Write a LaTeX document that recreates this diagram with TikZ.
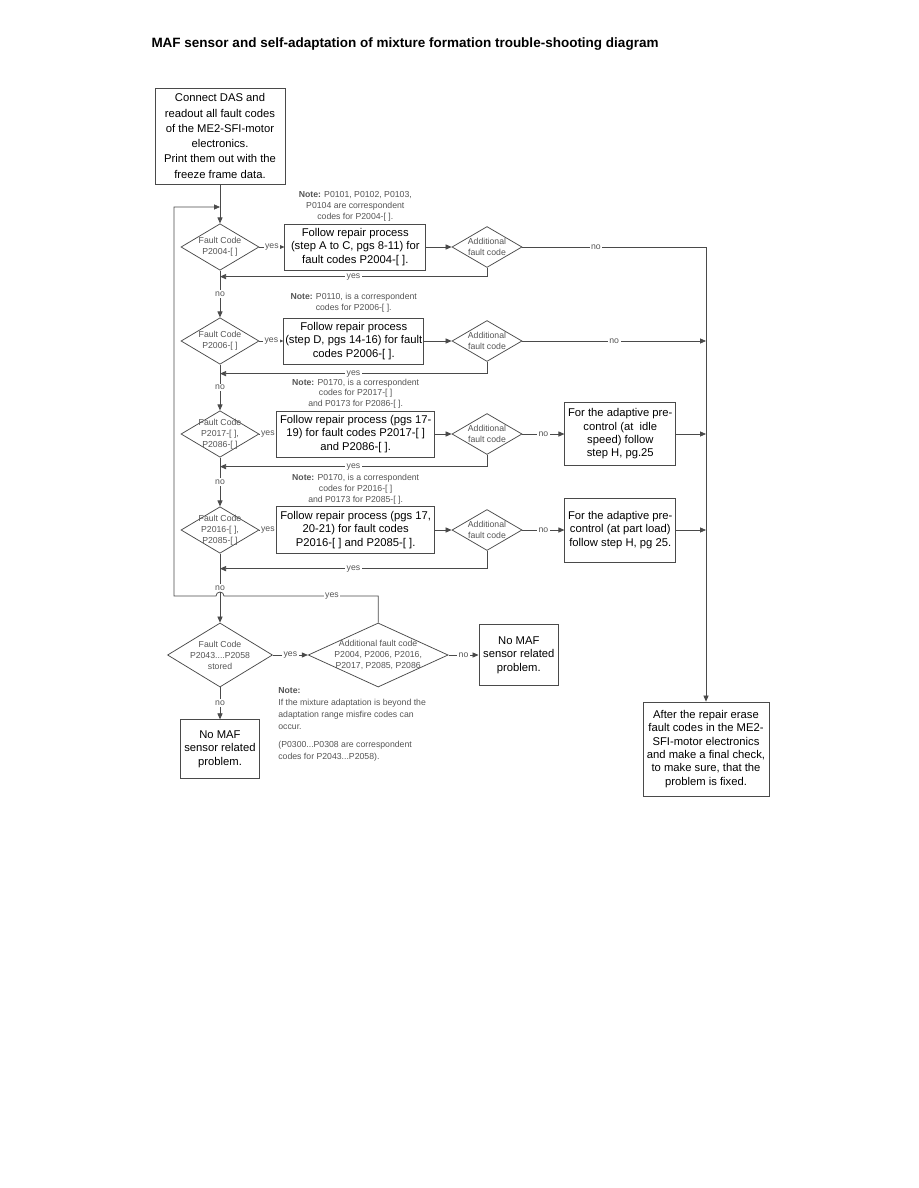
\documentclass[tikz,border=0pt]{standalone}
\usepackage{fontspec}
\setmainfont{Liberation Sans}
\usetikzlibrary{shapes.geometric, arrows.meta, positioning, calc}
\definecolor{linegray}{HTML}{4A4A4A}
\definecolor{notegray}{HTML}{555555}
\newcommand{\boxfont}{\fontsize{7.5}{8.9}\selectfont}
\newcommand{\smallfont}{\fontsize{5.8}{7.3}\selectfont}

\begin{document}
\begin{tikzpicture}[
    x=0.6667pt, y=-0.6667pt,
    line width=0.5pt,
    >={Triangle[length=4pt, width=3.4pt]},
    block/.style={rectangle, draw=linegray, fill=white, align=center, inner sep=1pt, font=\boxfont},
    decision/.style={diamond, draw=linegray, fill=white, inner sep=0pt, minimum width=52pt, minimum height=31pt},
    extra/.style={decision, minimum width=46.7pt, minimum height=27.3pt},
    dtext/.style={align=center, font=\smallfont, text=notegray, inner sep=0pt},
    note/.style={align=center, font=\smallfont, text=notegray, inner sep=0pt},
    lbl/.style={fill=white, inner sep=1pt, font=\smallfont, text=notegray},
    arrow/.style={->, draw=linegray},
]
    \fill[white] (0,0) rectangle (918,1188);
    \useasboundingbox (0,0) rectangle (918,1188);

    % Title
    \node[font=\bfseries\fontsize{9}{11}\selectfont] (title) at (405,44) {MAF sensor and self-adaptation of mixture formation trouble-shooting diagram};

    % Start
    \node[block, minimum width=86.7pt, minimum height=64pt, font=\fontsize{7.5}{10.2}\selectfont] (start) at (220,136) {Connect DAS and\\readout all fault codes\\of the ME2-SFI-motor\\electronics.\\Print them out with the\\freeze frame data.};

    % Fault code checks
    \node[decision, label={[dtext]center:{Fault Code\\P2004-[ ]}}] (d1) at (220,247) {};
    \node[decision, label={[dtext]center:{Fault Code\\P2006-[ ]}}] (d2) at (220,341) {};
    \node[decision, label={[dtext]center:{Fault Code\\P2017-[ ],\\P2086-[ ]}}] (d3) at (220,434) {};
    \node[decision, label={[dtext]center:{Fault Code\\P2016-[ ],\\P2085-[ ]}}] (d4) at (220,530) {};
    \node[decision, minimum width=70pt, minimum height=42.7pt, label={[dtext]center:{Fault Code\\P2043....P2058\\stored}}] (d5) at (220,655) {};

    % Additional fault code checks
    \node[extra, label={[dtext]center:{Additional\\fault code}}] (a1) at (487,247) {};
    \node[extra, label={[dtext]center:{Additional\\fault code}}] (a2) at (487,341) {};
    \node[extra, label={[dtext]center:{Additional\\fault code}}] (a3) at (487,434) {};
    \node[extra, label={[dtext]center:{Additional\\fault code}}] (a4) at (487,530) {};
    \node[decision, minimum width=93.3pt, minimum height=42.7pt, right=23.3pt of d5, label={[dtext]center:{Additional fault code\\P2004, P2006, P2016,\\P2017, P2085, P2086}}] (a5) {};

    % Repair processes
    \node[block, minimum width=94pt, minimum height=30.7pt, right=16.7pt of d1] (rep1) {Follow repair process\\(step A to C, pgs 8-11) for\\fault codes P2004-[ ].};
    \node[block, minimum width=89.3pt, minimum height=30.7pt, right=16pt of d2] (rep2) {Follow repair process\\(step D, pgs 14-16) for fault\\codes P2006-[ ].};
    \node[block, minimum width=105.3pt, minimum height=30.7pt, right=11.3pt of d3] (rep3) {Follow repair process (pgs 17-\\19) for fault codes P2017-[ ]\\and P2086-[ ].};
    \node[block, minimum width=105.3pt, minimum height=31.3pt, right=11.3pt of d4] (rep4) {Follow repair process (pgs 17,\\20-21) for fault codes\\P2016-[ ] and P2085-[ ].};

    % Adaptive pre-control
    \node[block, minimum width=74pt, minimum height=42pt, right=28pt of a3] (adapt1) {For the adaptive pre-\\control (at~ idle\\speed) follow\\step H, pg.25};
    \node[block, minimum width=74pt, minimum height=42.7pt, right=28pt of a4] (adapt2) {For the adaptive pre-\\control (at part load)\\follow step H, pg 25.};

    % End boxes
    \node[block, minimum width=53.3pt, minimum height=40.7pt, right=20pt of a5] (nomaf1) {No MAF\\sensor related\\problem.};
    \node[block, minimum width=52.7pt, minimum height=39.3pt, below=21.3pt of d5] (nomaf2) {No MAF\\sensor related\\problem.};
    \node[block, minimum width=84pt, minimum height=62.7pt] (final) at (706,749) {After the repair erase\\fault codes in the ME2-\\SFI-motor electronics\\and make a final check,\\to make sure, that the\\problem is fixed.};

    % Notes
    \node[note, above=1.5pt of rep1] (note1) {\textbf{Note:} P0101, P0102, P0103,\\P0104 are correspondent\\codes for P2004-[ ].};
    \node[note, above=3pt of rep2] (note2) {\textbf{Note:} P0110, is a correspondent\\codes for P2006-[ ].};
    \node[note, above=1pt of rep3] (note3) {\textbf{Note:} P0170, is a correspondent\\codes for P2017-[ ]\\and P0173 for P2086-[ ].};
    \node[note, above=1pt of rep4] (note4) {\textbf{Note:} P0170, is a correspondent\\codes for P2016-[ ]\\and P0173 for P2085-[ ].};
    \node[note, align=left, anchor=north west, font=\fontsize{5.8}{8}\selectfont] (note5) at (278,687) {\textbf{Note:}\\If the mixture adaptation is beyond the\\adaptation range misfire codes can\\occur.\\[4pt](P0300...P0308 are correspondent\\codes for P2043...P2058).};

    % Loop coordinates
    \coordinate (hop) at (220,596);
    \coordinate (loopcorner) at (174,596);
    \coordinate (loopentry) at (220,207);

    % Arrows
    \draw[arrow] (start.south) -- (d1.north);
    \draw[arrow] (d1) -- node[lbl]{yes} (rep1);
    \draw[arrow] (rep1) -- (a1);
    \draw[arrow] (a1.east) -- node[lbl, pos=0.4]{no} (a1 -| final.north) -- (final.north);
    \draw[arrow] (a1.south) |- node[lbl, pos=0.75]{yes} ($(d1.south)+(0,6)$);
    \draw[arrow] (d1) -- node[lbl]{no} (d2);

    \draw[arrow] (d2) -- node[lbl]{yes} (rep2);
    \draw[arrow] (rep2) -- (a2);
    \draw[arrow] (a2.east) -- node[lbl]{no} (a2 -| final.north);
    \draw[arrow] (a2.south) |- node[lbl, pos=0.75]{yes} ($(d2.south)+(0,9)$);
    \draw[arrow] (d2) -- node[lbl]{no} (d3);

    \draw[arrow] (d3) -- node[lbl]{yes} (rep3);
    \draw[arrow] (rep3) -- (a3);
    \draw[arrow] (a3) -- node[lbl]{no} (adapt1);
    \draw[arrow] (adapt1) -- (adapt1 -| final.north);
    \draw[arrow] (a3.south) |- node[lbl, pos=0.75]{yes} ($(d3.south)+(0,9)$);
    \draw[arrow] (d3) -- node[lbl]{no} (d4);

    \draw[arrow] (d4) -- node[lbl]{yes} (rep4);
    \draw[arrow] (rep4) -- (a4);
    \draw[arrow] (a4) -- node[lbl]{no} (adapt2);
    \draw[arrow] (adapt2) -- (adapt2 -| final.north);
    \draw[arrow] (a4.south) |- node[lbl, pos=0.75]{yes} ($(d4.south)+(0,15)$);
    \draw[arrow] (d4) -- node[lbl]{no} (d5);

    \draw[arrow] (d5) -- node[lbl]{yes} (a5);
    \draw[arrow] (a5) -- node[lbl]{no} (nomaf1);
    \draw[arrow] (d5) -- node[lbl]{no} (nomaf2);
    \draw[arrow] (a5.north) |- node[lbl, pos=0.65]{yes} ($(hop)+(4,0)$) arc[start angle=0, end angle=180, radius=2.67pt] -- (loopcorner) |- (loopentry);

\end{tikzpicture}
\end{document}
